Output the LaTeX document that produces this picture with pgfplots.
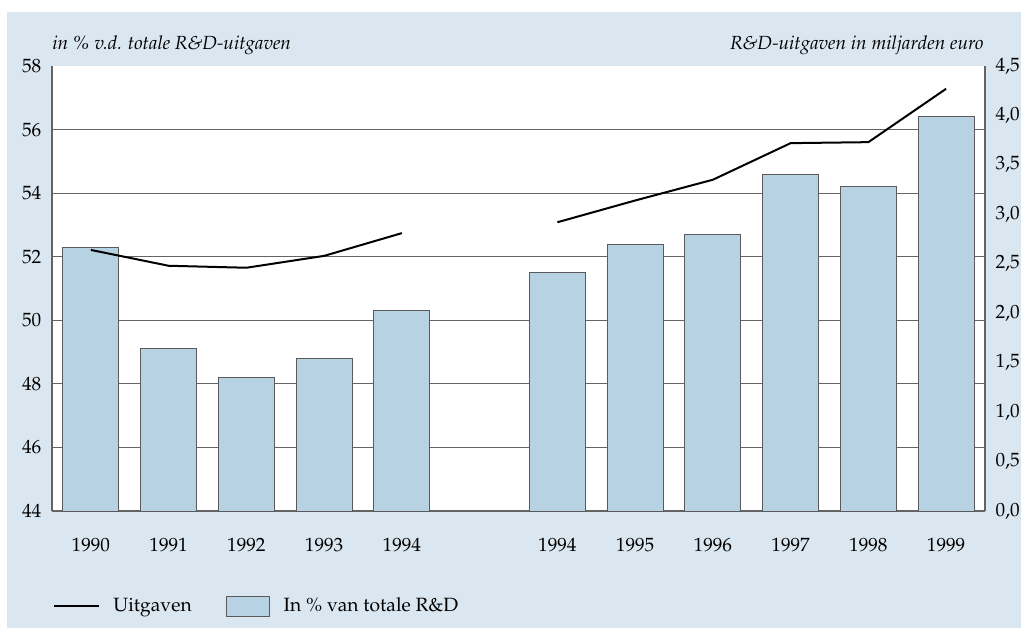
\documentclass[border=0pt]{standalone}
\usepackage[T1]{fontenc}
\usepackage{mathpazo}
\usepackage{pgfplots}
\pgfplotsset{compat=1.18}
\definecolor{bgcol}{RGB}{219,231,240}
\definecolor{barcol}{RGB}{183,210,227}
\definecolor{bardraw}{RGB}{90,90,90}
\definecolor{gridcol}{RGB}{100,100,100}
\begin{document}
\fontsize{9.5pt}{11pt}\selectfont
\begin{tikzpicture}
\path[use as bounding box] (0,0) rectangle (510.5pt,314pt);
\fill[bgcol] (3.5pt,0) rectangle (510.5pt,308pt);
\begin{axis}[
  at={(26pt,58.5pt)}, anchor=south west,
  scale only axis, width=466.5pt, height=222.5pt,
  xmin=-0.5, xmax=11.5, ymin=44, ymax=58,
  axis background/.style={fill=white},
  axis x line*=bottom, axis y line*=left,
  axis line style={gridcol, line width=0.6pt},
  ytick={44,46,...,56},
  extra y ticks={58}, extra tick style={grid=none},
  xtick={0,1,2,3,4,6,7,8,9,10,11},
  xticklabels={1990,1991,1992,1993,1994,1994,1995,1996,1997,1998,1999},
  major tick length=0pt,
  ymajorgrids, grid style={gridcol, line width=0.6pt},
  tick label style={font=\fontsize{9.6pt}{11pt}\selectfont},
  xticklabel style={yshift=-10pt},
  yticklabel style={xshift=-2pt},
  /pgf/number format/assume math mode=true,
  legend columns=2,
  legend style={draw=none, fill=none, inner sep=0pt, at={(0,0)}, anchor=west,
    xshift=0.5pt, yshift=-47.5pt, font=\fontsize{9.6pt}{11pt}\selectfont,
    /tikz/every even column/.append style={column sep=15pt}},
]
\addlegendimage{legend image code/.code={\draw[black, line width=1pt] (0pt,0pt) -- (22.5pt,0pt);}}
\addlegendentry{\hspace{4.5pt}Uitgaven}
\addplot[ybar, bar width=0.72, fill=barcol, draw=bardraw, line width=0.5pt,
  legend image code/.code={\draw[fill=barcol, draw=bardraw, line width=0.5pt] (0pt,-5pt) rectangle (21.5pt,5pt);}]
  table {
x y
0 52.3
1 49.1
2 48.2
3 48.8
4 50.3
6 51.5
7 52.4
8 52.7
9 54.6
10 54.2
11 56.4
};
\addlegendentry{\hspace{5pt}In \% van totale R\&D}
\end{axis}
\begin{axis}[
  at={(26pt,58.5pt)}, anchor=south west,
  scale only axis, width=466.5pt, height=222.5pt,
  xmin=-0.5, xmax=11.5, ymin=0, ymax=4.5,
  axis x line=none, axis y line*=right,
  axis line style={gridcol, line width=0.6pt},
  ytick={0,0.5,...,4.5},
  major tick length=0pt,
  tick label style={font=\fontsize{9.6pt}{11pt}\selectfont},
  yticklabel style={xshift=2pt},
  /pgf/number format/.cd, use comma, fixed, fixed zerofill, precision=1, assume math mode=true,
]
\addplot[black, line width=1pt] table {
x y
0 2.64
1 2.48
2 2.46
3 2.58
4 2.81
};
\addplot[black, line width=1pt] table {
x y
6 2.92
7 3.14
8 3.35
9 3.72
10 3.73
11 4.27
};
\end{axis}
\node[anchor=base west, inner sep=0pt, font=\fontsize{9.5pt}{11pt}\selectfont\itshape] at (26pt,289pt) {in \% v.d. totale R\&D-uitgaven};
\node[anchor=base east, inner sep=0pt, font=\fontsize{9.5pt}{11pt}\selectfont\itshape] at (492pt,289pt) {R\&D-uitgaven in miljarden euro};
\end{tikzpicture}
\end{document}
